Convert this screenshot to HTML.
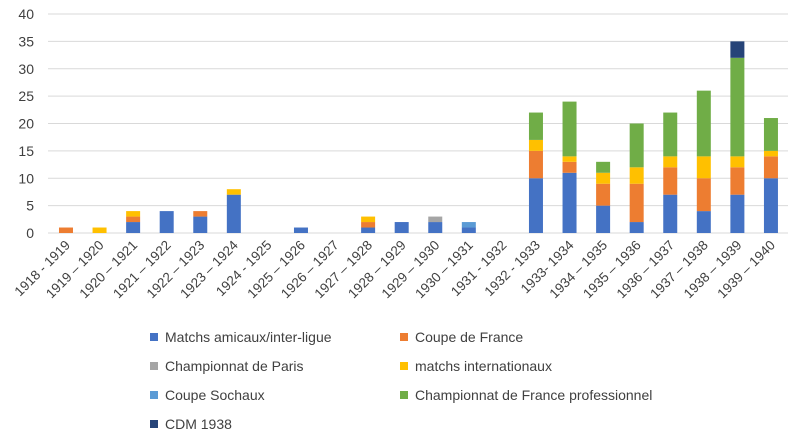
<!DOCTYPE html>
<html><head><meta charset="utf-8"><style>
body{margin:0;background:#fff;width:800px;height:441px;overflow:hidden;font-family:"Liberation Sans",sans-serif}
svg text{font-family:"Liberation Sans",sans-serif;fill:#404040}
</style></head><body>
<svg id="chart" width="800" height="441" xmlns="http://www.w3.org/2000/svg"></svg>
<script>
const categories=["1918 - 1919","1919 – 1920","1920 – 1921","1921 – 1922","1922 – 1923","1923 – 1924","1924 - 1925","1925 – 1926","1926 – 1927","1927 – 1928","1928 – 1929","1929 – 1930","1930 – 1931","1931 - 1932","1932 - 1933","1933- 1934","1934 – 1935","1935 – 1936","1936 – 1937","1937 – 1938","1938 – 1939","1939 – 1940"];
const seriesNames=["Matchs amicaux/inter-ligue","Coupe de France","Championnat de Paris","matchs internationaux","Coupe Sochaux","Championnat de France professionnel","CDM 1938"];
const seriesColors=["#4472c4","#ed7d31","#a5a5a5","#ffc000","#5b9bd5","#70ad47","#264478"];
const amicaux=[0,0,2,4,3,7,0,1,0,1,2,2,1,0,10,11,5,2,7,4,7,10];
const coupeFrance=[1,0,1,0,1,0,0,0,0,1,0,0,0,0,5,2,4,7,5,6,5,4];
const paris=[0,0,0,0,0,0,0,0,0,0,0,1,0,0,0,0,0,0,0,0,0,0];
const internationaux=[0,1,1,0,0,1,0,0,0,1,0,0,0,0,2,1,2,3,2,4,2,1];
const sochaux=[0,0,0,0,0,0,0,0,0,0,0,0,1,0,0,0,0,0,0,0,0,0];
const pro=[0,0,0,0,0,0,0,0,0,0,0,0,0,0,5,10,2,8,8,12,18,6];
const cdm=[0,0,0,0,0,0,0,0,0,0,0,0,0,0,0,0,0,0,0,0,3,0];
const yTicks=[0,5,10,15,20,25,30,35,40];
const series=[amicaux,coupeFrance,paris,internationaux,sochaux,pro,cdm];
const svg=document.getElementById('chart');
const NS="http://www.w3.org/2000/svg";
const x0=49.2,step=33.57,barW=14,yBase=233,yTop=14,yMax=40;
const y=v=>yBase-(v/yMax)*(yBase-yTop);
const cx=i=>x0+step*(i+0.5);
function mk(tag,attrs){const e=document.createElementNS(NS,tag);for(const k in attrs)e.setAttribute(k,attrs[k]);svg.appendChild(e);return e;}
yTicks.forEach(t=>{
  const l=mk('line',{x1:48,x2:788,y1:y(t),y2:y(t),stroke:'#d9d9d9','stroke-width':1});
  
  
  const tx=mk('text',{x:34,y:y(t)+5,'text-anchor':'end','font-size':14});
  tx.textContent=t;
  
  
});
categories.forEach((c,i)=>{
  let acc=0;
  series.forEach((s,si)=>{
    const v=s[i];if(!v)return;
    const r=mk('rect',{x:cx(i)-barW/2,y:y(acc+v),width:barW,height:y(acc)-y(acc+v),fill:seriesColors[si]});
    
    
    acc+=v;
  });
  const tx=mk('text',{x:0,y:0,'text-anchor':'end','font-size':13.5,transform:`translate(${cx(i)+5},${246}) rotate(-45)`});
  tx.textContent=c;
  
  
});
seriesNames.forEach((n,si)=>{
  const col=si%2,row=Math.floor(si/2);
  const lx=col?400:150,ly=337+row*29;
  const r=mk('rect',{x:lx,y:ly-4,width:8,height:8,fill:seriesColors[si]});
  
  
  const t=mk('text',{x:lx+15,y:ly+5,'font-size':14});
  t.textContent=n;
  
  
});
</script>
</body></html>
